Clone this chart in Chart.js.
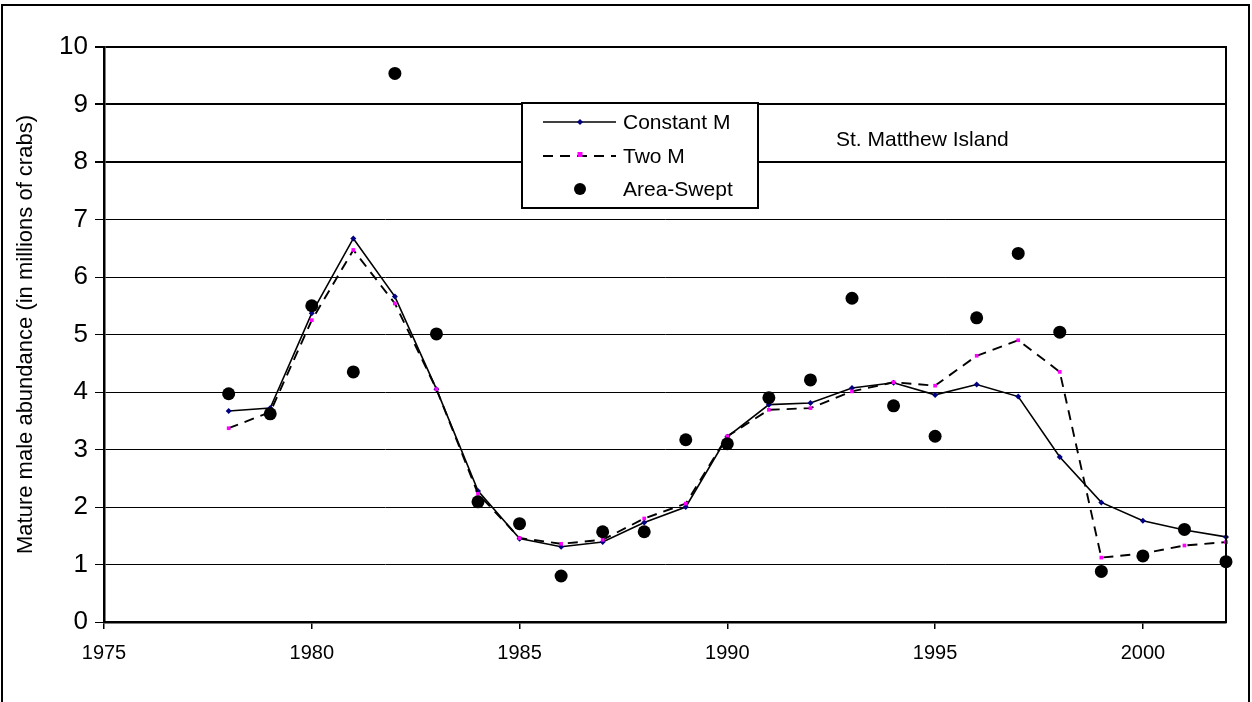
<!DOCTYPE html>
<html>
<head>
<meta charset="utf-8">
<title>St. Matthew Island mature male abundance</title>
<script src="https://cdn.jsdelivr.net/npm/chart.js@4/dist/chart.umd.min.js"></script>
<style>
  html, body { margin: 0; padding: 0; background: #ffffff; }
  #wrap { position: relative; width: 1252px; height: 702px; }
  canvas { display: block; }
</style>
</head>
<body>
<div id="wrap"><canvas id="chart" width="1252" height="702"></canvas></div>
<script>
// Survey years
const years = [1978, 1979, 1980, 1981, 1982, 1983, 1984, 1985, 1986, 1987, 1988, 1989, 1990,
               1991, 1992, 1993, 1994, 1995, 1996, 1997, 1998, 1999, 2000, 2001, 2002];

// Model estimates, millions of crabs
const constantM = [3.67, 3.72, 5.37, 6.67, 5.66, 4.05, 2.28, 1.45, 1.31, 1.39, 1.73, 2.00, 3.22,
                   3.78, 3.81, 4.07, 4.16, 3.95, 4.13, 3.92, 2.87, 2.08, 1.76, 1.60, 1.48];
const twoM      = [3.37, 3.65, 5.25, 6.47, 5.54, 4.05, 2.23, 1.46, 1.36, 1.43, 1.80, 2.06, 3.23,
                   3.69, 3.72, 4.01, 4.17, 4.11, 4.63, 4.90, 4.35, 1.12, 1.19, 1.33, 1.39];

// Area-swept survey estimates, millions of crabs
const areaSwept = [3.97, 3.62, 5.50, 4.35, 9.54, 5.01, 2.09, 1.71, 0.80, 1.57, 1.57, 3.17, 3.10,
                   3.90, 4.21, 5.63, 3.76, 3.23, 5.29, 6.41, 5.04, 0.88, 1.15, 1.61, 1.05];

// Axis ticks
const xTicks = [1975, 1980, 1985, 1990, 1995, 2000];
const yTicks = [0, 1, 2, 3, 4, 5, 6, 7, 8, 9, 10];

const seriesNames = ['Constant M', 'Two M', 'Area-Swept'];
const yTitle = 'Mature male abundance (in millions of crabs)';
const areaLabel = 'St. Matthew Island';

const FONT = 'Arial, "Liberation Sans", sans-serif';

const toPoints = (vals) => years.map((y, i) => ({ x: y, y: vals[i] }));

// Outer frame, right edge of the plot, legend box and area label
const decorations = {
  id: 'decorations',
  afterDraw(chart) {
    const { ctx, chartArea } = chart;
    ctx.save();

    // outer frame (open at the bottom edge of the canvas)
    ctx.strokeStyle = '#000';
    ctx.lineWidth = 2;
    ctx.beginPath();
    ctx.moveTo(2, 710);
    ctx.lineTo(2, 5);
    ctx.lineTo(1249, 5);
    ctx.lineTo(1249, 710);
    ctx.stroke();

    // right edge of the plot area
    ctx.beginPath();
    ctx.moveTo(Math.round(chartArea.right), chartArea.top - 1);
    ctx.lineTo(Math.round(chartArea.right), chartArea.bottom + 1);
    ctx.stroke();

    // area label
    ctx.fillStyle = '#000';
    ctx.font = '21px ' + FONT;
    ctx.textBaseline = 'middle';
    ctx.textAlign = 'left';
    ctx.fillText(areaLabel, 836, 140);

    // legend
    const bx = 522, by = 103, bw = 236, bh = 105;
    ctx.fillStyle = '#fff';
    ctx.fillRect(bx, by, bw, bh);
    ctx.lineWidth = 2;
    ctx.strokeStyle = '#000';
    ctx.strokeRect(bx, by, bw, bh);

    const rows = [122, 156, 189];
    const x0 = 543, x1 = 616, xm = 580, tx = 623;

    // Constant M sample
    ctx.lineWidth = 1.6;
    ctx.setLineDash([]);
    ctx.beginPath();
    ctx.moveTo(x0, rows[0]); ctx.lineTo(x1, rows[0]); ctx.stroke();
    ctx.fillStyle = '#000080';
    ctx.beginPath();
    ctx.moveTo(xm, rows[0] - 3); ctx.lineTo(xm + 3, rows[0]);
    ctx.lineTo(xm, rows[0] + 3); ctx.lineTo(xm - 3, rows[0]);
    ctx.closePath(); ctx.fill();

    // Two M sample
    ctx.lineWidth = 1.8;
    ctx.setLineDash([10, 7]);
    ctx.beginPath();
    ctx.moveTo(x0, rows[1]); ctx.lineTo(x1, rows[1]); ctx.stroke();
    ctx.setLineDash([]);
    ctx.fillStyle = '#ff00ff';
    ctx.fillRect(xm - 2.5, rows[1] - 4, 5, 5);

    // Area-Swept sample
    ctx.fillStyle = '#000';
    ctx.beginPath();
    ctx.arc(xm, rows[2], 6, 0, Math.PI * 2);
    ctx.fill();

    ctx.font = '21px ' + FONT;
    ctx.fillStyle = '#000';
    seriesNames.forEach((t, i) => ctx.fillText(t, tx, rows[i] + 1));

    ctx.restore();
  }
};

new Chart(document.getElementById('chart'), {
  type: 'line',
  data: {
    datasets: [
      {
        label: seriesNames[2],
        data: toPoints(areaSwept),
        showLine: false,
        pointStyle: 'circle',
        pointRadius: 6.5,
        pointBackgroundColor: '#000',
        pointBorderColor: '#000',
        pointBorderWidth: 0,
        clip: false,
        order: 0
      },
      {
        label: seriesNames[1],
        data: toPoints(twoM),
        borderColor: '#000',
        borderWidth: 1.9,
        borderDash: [10, 7],
        tension: 0,
        pointStyle: 'rect',
        pointRadius: 2.6,
        pointBackgroundColor: '#ff00ff',
        pointBorderColor: '#ff00ff',
        pointBorderWidth: 0,
        clip: false,
        order: 1
      },
      {
        label: seriesNames[0],
        data: toPoints(constantM),
        borderColor: '#000',
        borderWidth: 1.6,
        tension: 0,
        pointStyle: 'rectRot',
        pointRadius: 3,
        pointBackgroundColor: '#000080',
        pointBorderColor: '#000080',
        pointBorderWidth: 0,
        clip: false,
        order: 2
      }
    ]
  },
  options: {
    responsive: false,
    animation: false,
    devicePixelRatio: 1,
    layout: { padding: { left: 0, top: 47, right: 26, bottom: 0 } },
    plugins: {
      legend: { display: false },
      tooltip: { enabled: false }
    },
    scales: {
      x: {
        type: 'linear',
        min: 1975,
        max: 2002,
        afterBuildTicks(scale) { scale.ticks = xTicks.map(v => ({ value: v })); },
        afterFit(scale) { scale.height = 80; scale.paddingLeft = 0; scale.paddingRight = 0; },
        border: { display: true, color: '#000', width: 2.5 },
        grid: {
          drawOnChartArea: false,
          drawTicks: true,
          tickLength: 7,
          color: '#000',
          lineWidth: 1.5
        },
        ticks: {
          autoSkip: false,
          maxRotation: 0,
          padding: 12,
          color: '#000',
          font: { family: FONT, size: 20 },
          callback: (v) => String(v)
        }
      },
      y: {
        type: 'linear',
        min: 0,
        max: 10,
        afterBuildTicks(scale) { scale.ticks = yTicks.map(v => ({ value: v })); },
        afterFit(scale) { scale.width = 104; scale.paddingTop = 0; scale.paddingBottom = 0; },
        border: { display: true, color: '#000', width: 2.5 },
        grid: {
          color: '#000',
          lineWidth: (c) => (c.tick && c.tick.value >= 8 ? 2 : 1),
          drawTicks: true,
          tickLength: 9
        },
        ticks: {
          padding: 7,
          color: '#000',
          font: { family: FONT, size: 26 },
          callback: (v) => String(v)
        },
        title: {
          display: true,
          text: yTitle,
          color: '#000',
          font: { family: FONT, size: 22 },
          padding: { top: 13, bottom: 0 }
        }
      }
    }
  },
  plugins: [decorations]
});
</script>
</body>
</html>
